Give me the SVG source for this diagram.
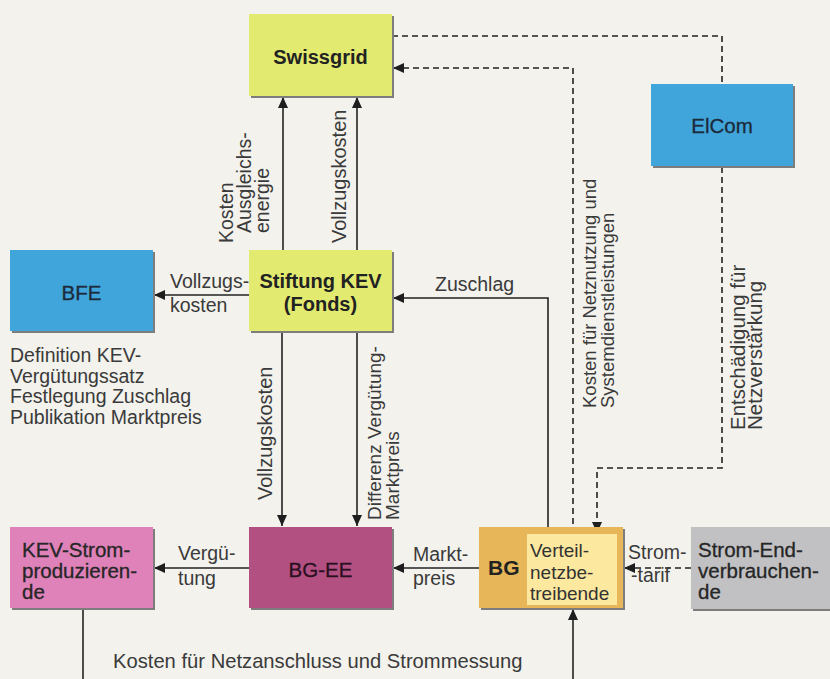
<svg xmlns="http://www.w3.org/2000/svg" width="830" height="679" viewBox="0 0 830 679">
<defs>
<marker id="ah" markerUnits="userSpaceOnUse" markerWidth="11" markerHeight="10" refX="11" refY="5" orient="auto">
<path d="M0,0 L11,5 L0,10 z" fill="#1e1e1e"/>
</marker>
<style>
.bg{fill:#f3f2ed}
.sh{fill:#7d7d7d}
.ln{fill:none;stroke:#222;stroke-width:1.6}
.ds{fill:none;stroke:#222;stroke-width:1.6;stroke-dasharray:6 4}
.lb{font-family:"Liberation Sans",Arial,sans-serif;font-size:19.5px;fill:#3a3a3a}
.nb{font-family:"Liberation Sans",Arial,sans-serif;font-size:20px;font-weight:bold;fill:#222}
.nm{font-family:"Liberation Sans",Arial,sans-serif;font-size:20.5px;fill:#262626;stroke:#262626;stroke-width:0.3}
.nl{font-family:"Liberation Sans",Arial,sans-serif;font-size:19px;fill:#333}
</style>
</defs>
<rect class="bg" x="0" y="0" width="830" height="679"/>

<g id="connectors">
<path class="ln" d="M283,250 V97" marker-end="url(#ah)"/>
<path class="ln" d="M357,250 V97" marker-end="url(#ah)"/>
<path class="ln" d="M249,295 H154" marker-end="url(#ah)"/>
<path class="ln" d="M282,331 V526" marker-end="url(#ah)"/>
<path class="ln" d="M357,331 V526" marker-end="url(#ah)"/>
<path class="ln" d="M548,534 V298 H393" marker-end="url(#ah)"/>
<path class="ln" d="M479,568 H393" marker-end="url(#ah)"/>
<path class="ln" d="M249,568 H154" marker-end="url(#ah)"/>
<path class="ds" d="M691,568 H624" marker-end="url(#ah)"/>
<path class="ds" d="M573,534 V68 H393" marker-end="url(#ah)"/>
<path class="ds" d="M392,36 H722 V84"/>
<path class="ds" d="M722,167 V468 H597 V533" marker-end="url(#ah)"/>
<path class="ln" d="M83,609 V679"/>
<path class="ln" d="M573,679 V609" marker-end="url(#ah)"/>

<text class="lb" transform="translate(233,243) rotate(-90)">Kosten</text>
<text class="lb" transform="translate(251,233) rotate(-90)">Ausgleichs-</text>
<text class="lb" transform="translate(269,233) rotate(-90)">energie</text>
<text class="lb" transform="translate(346,243) rotate(-90)" style="font-size:20px">Vollzugskosten</text>
<text class="lb" x="170" y="288">Vollzugs-</text>
<text class="lb" x="170" y="312">kosten</text>
<text class="lb" x="435" y="291">Zuschlag</text>
<text class="lb" transform="translate(272,500) rotate(-90)" style="font-size:20px">Vollzugskosten</text>
<text class="lb" transform="translate(381,520) rotate(-90)" style="font-size:19px">Differenz Vergütung-</text>
<text class="lb" transform="translate(399,520) rotate(-90)" style="font-size:19px">Marktpreis</text>
<text class="lb" transform="translate(596,408) rotate(-90)" style="font-size:18.5px">Kosten für Netznutzung und</text>
<text class="lb" transform="translate(614,408) rotate(-90)" style="font-size:18.5px">Systemdienstleistungen</text>
<text class="lb" transform="translate(745,430) rotate(-90)" style="font-size:20.5px">Entschädigung für</text>
<text class="lb" transform="translate(762,430) rotate(-90)" style="font-size:20.5px">Netzverstärkung</text>
<text class="lb" x="178" y="560">Vergü-</text>
<text class="lb" x="178" y="585">tung</text>
<text class="lb" x="413" y="561">Markt-</text>
<text class="lb" x="413" y="585">preis</text>
<text class="lb" x="628" y="559">Strom-</text>
<text class="lb" x="631" y="582">-tarif</text>
<text class="lb" x="113" y="668" style="font-size:20.2px">Kosten für Netzanschluss und Strommessung</text>
</g>

<g id="node-swissgrid">
<rect class="sh" x="251" y="16" width="143" height="82"/>
<rect x="249" y="14" width="143" height="82" fill="#e2ea70"/>
<text class="nb" x="320.5" y="64" text-anchor="middle">Swissgrid</text>
</g>

<g id="node-elcom">
<rect class="sh" x="653" y="86" width="142" height="82"/>
<rect x="651" y="84" width="142" height="82" fill="#40a5db"/>
<text class="nm" x="722" y="133" text-anchor="middle" style="fill:#1c2a3a;stroke:#1c2a3a">ElCom</text>
</g>

<g id="node-bfe">
<rect class="sh" x="12" y="252" width="143" height="81"/>
<rect x="10" y="250" width="143" height="81" fill="#40a5db"/>
<text class="nm" x="81.5" y="300" text-anchor="middle" style="fill:#1c2a3a;stroke:#1c2a3a">BFE</text>
</g>

<g id="node-bfe-note">
<text class="lb" x="10" y="362">Definition KEV-</text>
<text class="lb" x="10" y="383">Vergütungssatz</text>
<text class="lb" x="10" y="403">Festlegung Zuschlag</text>
<text class="lb" x="10" y="424">Publikation Marktpreis</text>
</g>

<g id="node-stiftung">
<rect class="sh" x="251" y="252" width="143" height="81"/>
<rect x="249" y="250" width="143" height="81" fill="#e2ea70"/>
<text class="nb" x="320.5" y="288" text-anchor="middle">Stiftung KEV</text>
<text class="nb" x="320.5" y="311" text-anchor="middle">(Fonds)</text>
</g>

<g id="node-kev-strom">
<rect class="sh" x="12" y="529" width="143" height="81"/>
<rect x="10" y="527" width="143" height="81" fill="#df82b9"/>
<text class="nm" x="22" y="557">KEV-Strom-</text>
<text class="nm" x="22" y="578">produzieren-</text>
<text class="nm" x="22" y="599">de</text>
</g>

<g id="node-bg-ee">
<rect class="sh" x="251" y="529" width="143" height="81"/>
<rect x="249" y="527" width="143" height="81" fill="#b35082"/>
<text class="nm" x="320.5" y="577" text-anchor="middle" style="fill:#2a0f1e;stroke:#2a0f1e">BG-EE</text>
</g>

<g id="node-bg">
<rect class="sh" x="481" y="529" width="144" height="81"/>
<rect x="479" y="527" width="144" height="81" fill="#e6b659"/>
<rect x="527" y="534" width="90" height="71" fill="#fce89f"/>
<text class="nb" x="488" y="575" style="font-size:21px">BG</text>
<text class="nl" x="530" y="557">Verteil-</text>
<text class="nl" x="530" y="579">netzbe-</text>
<text class="nl" x="530" y="600">treibende</text>
</g>

<g id="node-strom-end">
<rect class="sh" x="693" y="529" width="145" height="82"/>
<rect x="691" y="527" width="145" height="82" fill="#c1c1c3"/>
<text class="nm" x="698" y="557">Strom-End-</text>
<text class="nm" x="698" y="578">verbrauchen-</text>
<text class="nm" x="698" y="599">de</text>
</g>
</svg>
